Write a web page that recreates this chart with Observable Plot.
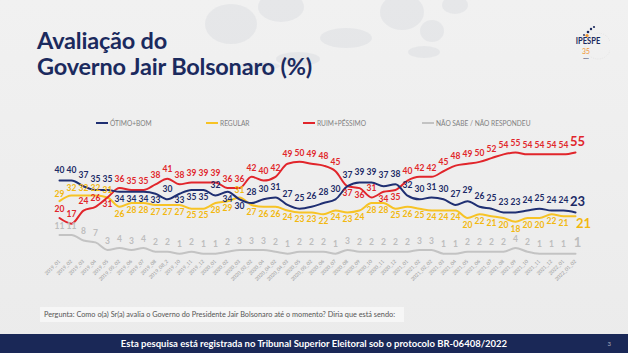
<!DOCTYPE html>
<html><head><meta charset="utf-8">
<script src="https://cdn.jsdelivr.net/npm/d3@7"></script>
<script src="https://cdn.jsdelivr.net/npm/@observablehq/plot@0.6"></script>
<style>
html,body{margin:0;padding:0;}
body{width:628px;height:353px;overflow:hidden;}
#slide{position:relative;width:628px;height:353px;background:linear-gradient(#f1f1f1,#ebebeb);font-family:Lato,sans-serif;overflow:hidden;}
.blob{position:absolute;border-radius:50%;background:rgba(205,210,216,0.3);}
.title{position:absolute;left:37px;top:27px;font-size:23.5px;line-height:26px;font-weight:700;color:#1b2a5e;letter-spacing:-0.2px;}
.logo{position:absolute;left:566px;top:24px;width:44px;height:44px;}
#legend{position:absolute;top:118px;left:0;width:628px;height:10px;font-size:6.6px;color:#7f7f7f;}
.li{position:absolute;top:0;white-space:nowrap;line-height:10px;}
.li i{display:inline-block;width:12px;height:2px;vertical-align:middle;margin-right:2px;position:relative;top:-1px;}
#chart{position:absolute;left:0;top:100px;}
.q{position:absolute;left:40px;top:307px;width:364px;height:15px;background:#f6f6f6;font-size:7.3px;color:#555;line-height:15px;padding-left:4px;box-sizing:border-box;white-space:nowrap;}
.footer{position:absolute;left:0;top:334px;width:628px;height:19px;background:#1a2857;color:#fff;font-weight:700;font-size:9.5px;line-height:19px;text-align:center;}
.pg{position:absolute;right:17px;top:0;font-size:6px;font-weight:400;color:#aab;}
</style></head><body>
<div id="slide">
  <div class="blob" style="left:205px;top:4px;width:52px;height:40px;"></div>
  <div class="blob" style="left:258px;top:-8px;width:46px;height:30px;"></div>
  <div class="blob" style="left:320px;top:28px;width:52px;height:20px;"></div>
  <div class="blob" style="left:276px;top:52px;width:44px;height:14px;"></div>
  <div class="blob" style="left:240px;top:62px;width:40px;height:8px;"></div>
  <div class="blob" style="left:380px;top:-6px;width:44px;height:36px;"></div>
  <div class="blob" style="left:420px;top:20px;width:24px;height:22px;"></div>
  <div class="blob" style="left:442px;top:-4px;width:26px;height:18px;"></div>
  <div class="blob" style="left:408px;top:46px;width:32px;height:12px;"></div>
  <div class="title">Avaliação do<br>Governo Jair Bolsonaro (%)</div>
  <svg class="logo" viewBox="0 0 44 44">
    <circle cx="32" cy="22" r="13" fill="none" stroke="#dcdcdc" stroke-width="0.6" stroke-dasharray="1 1.2"/>
    <circle cx="28" cy="3" r="1.1" fill="#1b2a5e"/>
    <circle cx="25" cy="5" r="1.2" fill="#1b2a5e"/>
    <circle cx="22" cy="8" r="1.3" fill="#1b2a5e"/>
    <circle cx="18" cy="11" r="0.9" fill="#1b2a5e"/>
    <circle cx="21" cy="11.5" r="1.6" fill="#f0932b"/>
    <text x="22" y="20" text-anchor="middle" font-family="Lato" font-weight="700" font-size="9.5" fill="#1b2a5e" transform="translate(22 0) scale(0.8 1) translate(-22 0)">IPESPE</text>
    <text x="20" y="30" text-anchor="middle" font-family="Lato" font-size="8.5" fill="#f0932b" transform="translate(20 0) scale(0.8 1) translate(-20 0)">35</text>
    <text x="20" y="35" text-anchor="middle" font-family="Lato" font-weight="700" font-size="2.6" fill="#1b2a5e">anos</text>
  </svg>
  <div id="legend"></div>
  <div id="chart"></div>
  <div class="q">Pergunta: Como o(a) Sr(a) avalia o Governo do Presidente Jair Bolsonaro até o momento? Diria que está sendo:</div>
  <div class="footer">Esta pesquisa está registrada no Tribunal Superior Eleitoral sob o protocolo BR-06408/2022<span class="pg">3</span></div>
</div>
<script>
const periods = ["2019_01","2019_02","2019_03","2019_04","2019_05","2019_05_02","2019_06","2019_07","2019_08","2019_08_2","2019_10","2019_11","2019_12",
  "2020_01","2020_02","2020_03","2020_03_02","2020_04","2020_04_02","2020_04_03","2020_05","2020_05_02","2020_06","2020_07","2020_08","2020_09","2020_10","2020_11","2020_12",
  "2021_01","2021_02","2021_02_02","2021_03","2021_04","2021_05","2021_06","2021_07","2021_08","2021_09","2021_10","2021_11","2021_12",
  "2022_01","2022_01_02"];
const otimoBom   = [40,40,37,35,35,34,34,34,33,30,33,35,35,32,34,30,28,30,31,27,25,26,28,30,37,39,39,37,38,32,30,31,30,27,29,26,25,23,23,24,25,24,24,23];
const regular    = [29,32,32,32,31,26,28,28,27,27,27,25,25,28,29,31,27,26,26,24,23,23,22,24,23,24,28,28,25,26,25,24,24,24,20,22,21,20,18,20,20,22,21,21];
const ruimPessimo= [20,17,24,26,31,36,35,35,38,41,38,39,39,39,36,36,42,40,42,49,50,49,48,45,37,36,31,34,35,40,42,42,45,48,49,50,52,54,55,54,54,54,54,55];
const naoSabe    = [11,11,8,7,3,4,3,4,2,2,1,2,1,1,2,3,3,3,2,1,2,2,2,1,3,2,2,2,2,2,3,3,1,1,2,2,2,2,4,2,1,1,1,1];
const seriesNames = ["ÓTIMO+BOM","REGULAR","RUIM+PÉSSIMO","NÃO SABE / NÃO RESPONDEU"];

const series = [
  {key:"ns", name:seriesNames[3], values:naoSabe, color:"#c3c3c3", label:"#bdbdbd"},
  {key:"regular", name:seriesNames[1], values:regular, color:"#f7c325", label:"#f2b80f"},
  {key:"ruim", name:seriesNames[2], values:ruimPessimo, color:"#e1252b", label:"#e1252b"},
  {key:"otimo", name:seriesNames[0], values:otimoBom, color:"#1f2f72", label:"#1c2a66"}
];

// label side rule: labels go below when another main line sits just above
function side(key, i) {
  const o = otimoBom[i], r = regular[i], p = ruimPessimo[i];
  if (key === "ns") return "above";
  if (key === "regular") return (r < o && r < p) ? "below" : "above";
  if (key === "otimo") return [r, p].some(v => v > o && v - o <= 5) ? "below" : "above";
  return [o, r].some(v => v >= p && v - p <= 5) ? "below" : "above";
}
const aboveDy = {ns:-9, regular:-7, ruim:-9, otimo:-10.5};

// legend
const legendX = [96, 206, 303, 422];
const legendOrder = [series[3], series[1], series[2], series[0]];
const leg = document.getElementById("legend");
legendOrder.forEach((s, k) => {
  const d = document.createElement("div");
  d.className = "li";
  d.style.left = legendX[k] + "px";
  d.innerHTML = `<i style="background:${s.color}"></i>${s.name}`;
  leg.appendChild(d);
});

const last = periods.length - 1;
const marks = [
  Plot.axisX({tickSize:0, tickPadding:5, tickRotate:-45, fontSize:5, fill:"#9a9a9a", label:null})
];
for (const s of series) {
  marks.push(Plot.line(s.values, {x:(d,i)=>periods[i], y:d=>d, stroke:s.color, strokeWidth:2, curve:"monotone-x"}));
}
for (const s of series) {
  const pts = s.values.map((v,i)=>({period:periods[i], value:v, i, side:side(s.key,i)}));
  const common = {x:"period", y:"value", text:d=>String(d.value), fill:s.label, fontSize:8.5, fontWeight:700};
  marks.push(Plot.text(pts.filter(d=>d.i<last && d.side==="above"), {...common, dy:aboveDy[s.key]}));
  marks.push(Plot.text(pts.filter(d=>d.i<last && d.side==="below"), {...common, dy:7}));
  const lp = pts[last];
  marks.push(Plot.text([lp], {x:"period", y:"value", text:d=>String(d.value), fill:s.label, fontSize:13, fontWeight:700,
    dy: lp.side==="above" ? -11 : 8, dx: s.key==="regular" ? 8 : 2}));
}

const chart = Plot.plot({
  width:628, height:190, marginTop:52, marginBottom:35, marginLeft:57, marginRight:51,
  x:{type:"point", domain:periods, padding:0},
  y:{domain:[0,55], axis:null},
  style:{background:"transparent", fontFamily:"Lato, sans-serif", overflow:"visible"},
  marks
});
document.getElementById("chart").appendChild(chart);
</script>
</body></html>
